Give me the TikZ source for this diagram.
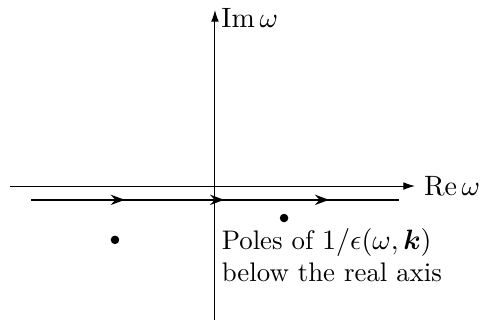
\documentclass[tikz,border=0pt]{standalone}
\usepackage{amsmath,bm}
\usetikzlibrary{arrows.meta,decorations.markings}

\newcommand*{\xmin}{-2.82}
\newcommand*{\xmax}{2.75}
\newcommand*{\ymin}{-1.84}
\newcommand*{\ymax}{2.42}

\begin{document}
\begin{tikzpicture}
[
	font=\fontsize{10.5pt}{12.4pt}\selectfont,
	pole/.style={circle,draw,fill,inner sep=0pt,minimum size=2.9pt},
	axis/.style={->,>={Latex[length=4.5pt,width=3pt]},line width=0.4pt},
	contour/.style={line width=0.8pt,postaction={decorate},
		decoration={markings,
			mark=at position 0.255 with {\arrow{Stealth[length=5.5pt,width=4pt]}},
			mark=at position 0.525 with {\arrow{Stealth[length=5.5pt,width=4pt]}},
			mark=at position 0.81 with {\arrow{Stealth[length=5.5pt,width=4pt]}}}}
]
	\useasboundingbox (-2.956,-1.87) rectangle (3.644,2.558);

	% axes
	\coordinate (xl) at (\xmin,0);
	\coordinate (xr) at (\xmax,0);
	\coordinate (yb) at (0,\ymin);
	\coordinate (yt) at (0,\ymax);
	\draw[axis] (xl) -- (xr) node[right] (re) {$\operatorname{Re}\omega$};
	\draw[axis] (yb) -- (yt) node[right,yshift=-3pt,xshift=-1pt] (im) {$\operatorname{Im}\omega$};

	% integration path just below the real axis
	\coordinate (cl) at (-2.53,-0.19);
	\coordinate (cr) at (2.53,-0.19);
	\draw[contour] (cl) -- (cr);

	% poles
	\node[pole] (p1) at (-1.375,-0.74) {};
	\node[pole] (p2) at (0.95,-0.44) {};
	\node[align=left,anchor=north west] (txt) at (-0.03,-0.46)
		{Poles of $1/\epsilon(\omega,\bm{k})$\\below the real axis};

\end{tikzpicture}
\end{document}
